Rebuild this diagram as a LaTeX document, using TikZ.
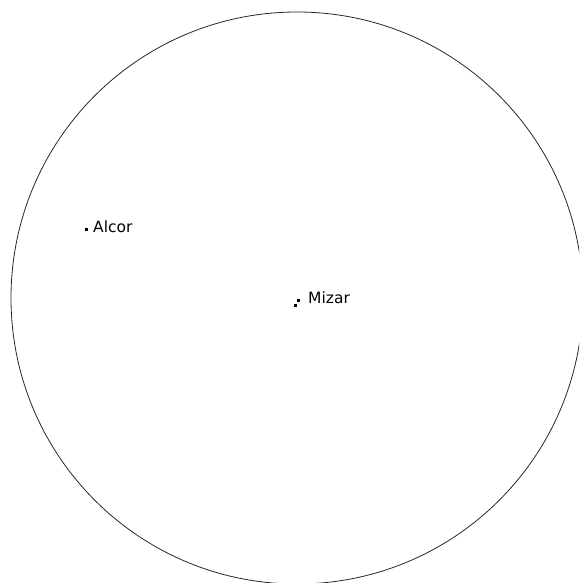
\documentclass[tikz,border=0pt]{standalone}
\usepackage{fontspec}
\setmainfont{DejaVu Sans}
\begin{document}
\begin{tikzpicture}[x=1pt,y=-1pt,
  star/.style={fill=black,inner sep=0pt,minimum size=3pt,rectangle},
  lbl/.style={anchor=west,inner sep=0pt,font=\fontsize{15.5}{15.5}\selectfont},
  field/.style={draw=black!85,line width=0.8pt}]
\useasboundingbox (0,0) rectangle (579,583);
\begin{scope}
\clip (0,0) rectangle (579,583);
\draw[field] (297,298) circle (286);
\end{scope}
\node[star] (alcor) at (86,229) {};
\node[lbl] (alcorlbl) at (93,227) {Alcor};
\node[star] (mizarA) at (298.5,300.5) {};
\node[star] (mizarB) at (295.5,305.5) {};
\node[lbl] (mizarlbl) at (308,298) {Mizar};
\end{tikzpicture}
\end{document}
